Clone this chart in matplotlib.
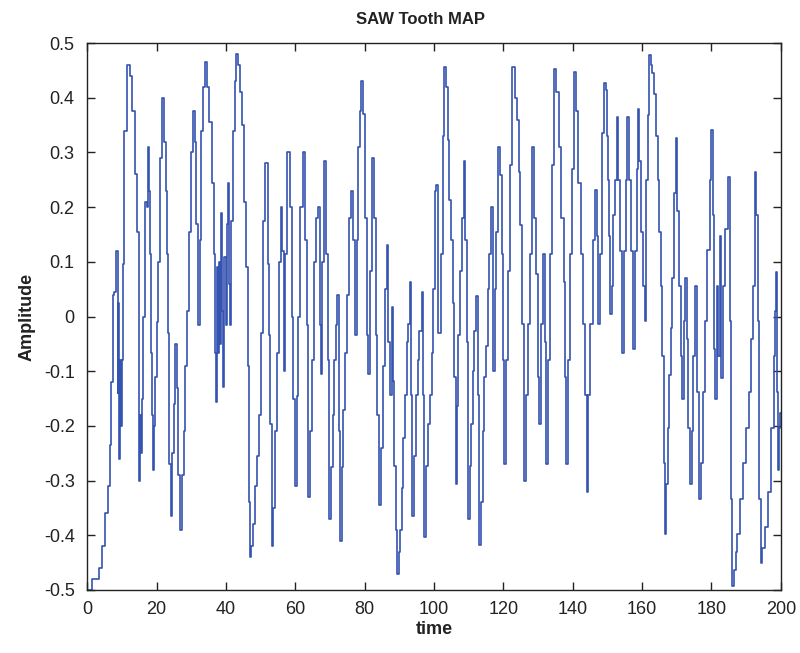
import numpy as np
import matplotlib.pyplot as plt
from matplotlib.ticker import FixedLocator, FixedFormatter

plt.rcParams['font.family'] = ['Liberation Sans', 'DejaVu Sans']

# turning points: time / amplitude
time = [0, 2.9, 3.8, 4.8, 5.6, 6.2, 6.7, 7.2, 7.5, 8.0, 8.6, 8.9, 9.1, 9.3, 9.6, 9.9, 10.2, 10.4,
        11.0, 12.0, 12.5, 13.3, 14.2, 14.7, 14.9, 15.2, 15.4, 15.7, 15.9, 16.3, 16.9, 17.3, 17.6,
        17.9, 18.3, 18.5, 18.9, 19.2, 19.5, 19.8, 20.2, 20.6, 21.1, 21.9, 22.4, 22.8, 23.2, 23.5,
        23.9, 24.3, 24.7, 25.2, 25.7, 26.1, 26.5, 27.1, 27.6, 28.0, 28.6, 29.1, 29.6, 30.3, 30.7,
        31.2, 31.7, 32.2, 32.7, 33.1, 33.6, 34.1, 34.8, 35.5, 36.2, 36.7, 37.1, 37.4, 37.7, 37.9,
        38.2, 38.5, 38.8, 39.1, 39.4, 39.7, 40.1, 40.3, 40.7, 41.0, 41.3, 41.8, 42.3, 42.7, 43.2,
        43.8, 44.4, 45.0, 45.6, 46.1, 46.4, 46.7, 47.0, 47.6, 48.0, 48.7, 49.3, 49.8, 50.3, 50.9,
        51.7, 52.3, 52.7, 53.0, 53.3, 53.4, 53.9, 54.4, 54.9, 55.6, 56.1, 56.5, 56.9, 57.3, 58.1,
        58.7, 59.2, 59.7, 60.2, 60.6, 61.1, 61.9, 62.6, 63.0, 63.5, 64.0, 64.5, 65.0, 65.7, 66.4,
        66.9, 67.2, 67.6, 67.9, 68.5, 69.1, 69.6, 70.0, 70.5, 71.0, 71.5, 71.9, 72.4, 72.8, 73.1,
        73.6, 74.1, 74.6, 75.1, 75.7, 76.3, 76.8, 77.5, 77.9, 78.4, 78.9, 79.2, 79.9, 80.3, 80.8,
        81.3, 81.8, 82.5, 83.0, 83.4, 83.9, 84.4, 85.0, 85.6, 86.1, 86.6, 87.1, 87.5, 88.0, 88.3,
        88.7, 89.2, 89.6, 90.0, 90.4, 90.9, 91.4, 91.9, 92.3, 92.8, 93.3, 93.6, 94.0, 94.5, 95.0,
        95.5, 96.1, 96.7, 97.0, 97.3, 97.9, 98.4, 99.1, 99.6, 100.0, 100.5, 100.8, 101.5, 102.3,
        102.8, 103.2, 103.7, 104.2, 104.7, 105.2, 105.6, 106.1, 106.4, 106.8, 107.3, 107.9, 108.3,
        108.8, 109.3, 109.7, 110.0, 110.5, 110.9, 111.4, 111.9, 112.6, 112.9, 113.3, 113.8, 114.3,
        114.8, 115.3, 115.7, 116.2, 116.7, 117.2, 117.7, 118.2, 118.8, 119.3, 119.7, 120.1, 120.4,
        121.0, 121.7, 122.3, 122.9, 123.6, 124.2, 124.7, 125.1, 125.8, 126.3, 126.8, 127.3, 127.8,
        128.5, 129.0, 129.7, 130.1, 130.5, 131.1, 131.8, 132.1, 132.5, 133.0, 133.7, 134.3, 134.9,
        135.7, 136.4, 137.1, 137.6, 138.0, 138.4, 138.8, 139.4, 139.9, 140.7, 141.4, 141.9, 142.6,
        143.1, 143.8, 144.3, 144.7, 145.5, 146.1, 146.7, 147.1, 147.7, 148.1, 148.6, 149.2, 149.8,
        150.1, 150.5, 150.7, 151.0, 151.4, 152.0, 152.5, 153.0, 153.4, 153.9, 154.6, 155.1, 155.5,
        156.0, 156.5, 157.0, 157.8, 158.2, 158.6, 158.9, 159.5, 160.1, 160.6, 161.0, 161.5, 161.9,
        162.3, 162.8, 163.2, 163.7, 164.2, 164.7, 165.2, 165.6, 166.1, 166.4, 166.6, 167.1, 167.6,
        168.0, 168.5, 169.0, 169.5, 169.8, 170.2, 170.9, 171.4, 171.7, 172.2, 172.6, 173.1, 173.6,
        174.1, 174.6, 175.0, 175.7, 176.2, 176.7, 177.2, 177.9, 178.6, 179.1, 179.8, 180.2, 180.7,
        181.0, 181.3, 181.8, 182.2, 182.7, 183.1, 183.7, 184.4, 185.1, 185.5, 185.8, 186.2, 186.8,
        187.2, 187.7, 188.7, 189.6, 190.4, 191.1, 191.6, 192.2, 192.7, 193.1, 193.5, 193.7, 194.0,
        194.3, 194.9, 195.9, 196.8, 197.8, 198.3, 198.5, 198.8, 199.1, 199.3, 199.7, 200.0]

amp = [-0.5, -0.48, -0.46, -0.42, -0.36, -0.31, -0.235, -0.12, 0.04, 0.045, 0.12, -0.14, 0.025, -0.26,
       -0.08, -0.2, -0.08, 0.096, 0.34, 0.46, 0.44, 0.375, 0.26, 0.155, 0.005, -0.3, -0.18, -0.25,
       -0.15, 0.0, 0.21, 0.2, 0.31, 0.23, 0.115, -0.066, -0.18, -0.28, -0.2, -0.11, -0.01, 0.1,
       0.29, 0.4, 0.32, 0.23, 0.115, -0.03, -0.27, -0.365, -0.25, -0.16, -0.05, -0.13, -0.29,
       -0.39, -0.29, -0.21, -0.09, 0.01, 0.155, 0.3, 0.375, 0.32, 0.17, -0.015, 0.14, 0.34, 0.42,
       0.466, 0.42, 0.355, 0.245, 0.115, -0.066, -0.157, 0.09, -0.066, 0.1, -0.05, 0.19, 0.01,
       -0.128, 0.109, -0.015, 0.17, 0.245, 0.06, -0.015, 0.175, 0.34, 0.43, 0.48, 0.46, 0.41, 0.35,
       0.21, 0.09, -0.09, -0.34, -0.44, -0.42, -0.38, -0.31, -0.255, -0.18, -0.03, 0.175,
       0.28, 0.096, -0.034, -0.196, -0.34, -0.42, -0.35, -0.21, -0.066, 0.1, 0.2, 0.12, -0.1, 0.115,
       0.3, 0.2, 0.0, -0.15, -0.31, -0.145, 0.0, 0.2, 0.3, 0.14, -0.015, -0.33, -0.21, -0.08, 0.1,
       0.18, 0.2, -0.015, -0.105, 0.1, 0.285, 0.115, -0.08, -0.37, -0.275, -0.18, -0.08, -0.015,
       0.04, -0.21, -0.41, -0.275, -0.17, -0.066, 0.04, 0.18, 0.23, 0.14, -0.034, 0.14, 0.31, 0.375,
       0.43, 0.37, 0.18, -0.034, -0.105, 0.083, 0.29, 0.18, -0.034, -0.18, -0.345, -0.24, -0.09,
       0.05, 0.13, -0.047, -0.144, 0.018, -0.118, -0.274, -0.39, -0.47, -0.43, -0.39, -0.313,
       -0.222, -0.144, -0.047, -0.014, 0.064, -0.144, -0.365, -0.255, -0.144, -0.08, -0.027, 0.044,
       -0.144, -0.404, -0.274, -0.196, -0.144, -0.066, 0.05, 0.23, 0.24, -0.03, 0.115,
       0.33, 0.456, 0.42, 0.323, 0.213, 0.14, 0.025, -0.11, -0.306, -0.164, -0.034, 0.083, 0.18,
       0.284, 0.14, -0.047, -0.37, -0.274, -0.196, -0.1, -0.027, 0.038, -0.144, -0.417, -0.34,
       -0.21, -0.11, -0.053, 0.05, 0.115, 0.2, -0.1, 0.05, 0.155, 0.31, 0.258, 0.115, -0.08, -0.27,
       -0.08, 0.083, 0.278, 0.456, 0.4, 0.36, 0.265, 0.168, -0.014, -0.3, -0.144, -0.014, 0.115,
       0.31, 0.18, 0.077, -0.11, -0.196, -0.014, 0.115, -0.047, -0.27, -0.08, 0.115, 0.278, 0.453,
       0.41, 0.31, 0.18, 0.064, -0.11, -0.27, -0.08, 0.115, 0.27, 0.447, 0.375, 0.245, 0.115,
       -0.014, -0.144, -0.32, -0.144, -0.014, 0.14, 0.232, 0.148, -0.014, 0.115, 0.336, 0.427, 0.414,
       0.33, 0.25, 0.147, 0.005, 0.056, 0.186, 0.25, 0.365, 0.25, 0.12, -0.067, 0.12, 0.25,
       0.365, 0.25, 0.12, -0.06, 0.12, 0.27, 0.38, 0.284, 0.154, 0.056, -0.008, 0.25, 0.368,
       0.478, 0.46, 0.446, 0.407, 0.33, 0.25, 0.154, 0.056, -0.073, -0.268, -0.398, -0.307, -0.203,
       -0.106, -0.021, 0.07, 0.225, 0.326, 0.193, 0.056, -0.073, -0.151, -0.008, 0.07, -0.041, -0.203,
       -0.307, -0.21, -0.073, 0.056, -0.138, -0.333, -0.268, -0.138, -0.008, 0.121, 0.25, 0.342, 0.186,
       -0.06, -0.151, 0.056, -0.073, 0.147, -0.112, 0.056, 0.16, 0.255, -0.008, -0.333, -0.492, -0.463,
       -0.43, -0.398, -0.333, -0.268, -0.203, -0.138, -0.041, 0.056, 0.264, 0.186, -0.008, -0.203, -0.333,
       -0.45, -0.424, -0.385, -0.32, -0.203, -0.073, 0.011, 0.082, -0.138, -0.281, -0.203, -0.177]

xticks = [0, 20, 40, 60, 80, 100, 120, 140, 160, 180, 200]
yticks = [-0.5, -0.4, -0.3, -0.2, -0.1, 0, 0.1, 0.2, 0.3, 0.4, 0.5]
ylabels = ['-0.5', '-0.4', '-0.3', '-0.2', '-0.1', '0', '0.1', '0.2', '0.3', '0.4', '0.5']

fig = plt.figure(figsize=(8, 6.53), dpi=100)
ax = fig.add_axes([0.109, 0.0965, 0.867, 0.8375])

# MATLAB-like stair trace
ax.plot(time, amp, color='#3553b0', linewidth=1.2, drawstyle='steps-mid')

ax.set_xlim(0, 200)
ax.set_ylim(-0.5, 0.5)
ax.xaxis.set_major_locator(FixedLocator(xticks))
ax.yaxis.set_major_locator(FixedLocator(yticks))
ax.yaxis.set_major_formatter(FixedFormatter(ylabels))
ax.tick_params(direction='in', top=True, right=True, length=6, width=1,
               labelsize=13, colors='#222222')
ax.tick_params(axis='x', pad=8)
ax.tick_params(axis='y', pad=9)
for s in ax.spines.values():
    s.set_color('#222222')
    s.set_linewidth(1.0)

ax.set_title('SAW Tooth MAP', fontsize=12, fontweight='bold', color='#222222', pad=14, x=0.48)
ax.set_xlabel('time', fontsize=13, fontweight='bold', color='#222222', labelpad=2)
ax.set_ylabel('Amplitude', fontsize=13, fontweight='bold', color='#222222', labelpad=6)

fig.savefig('out.png', dpi=100)
